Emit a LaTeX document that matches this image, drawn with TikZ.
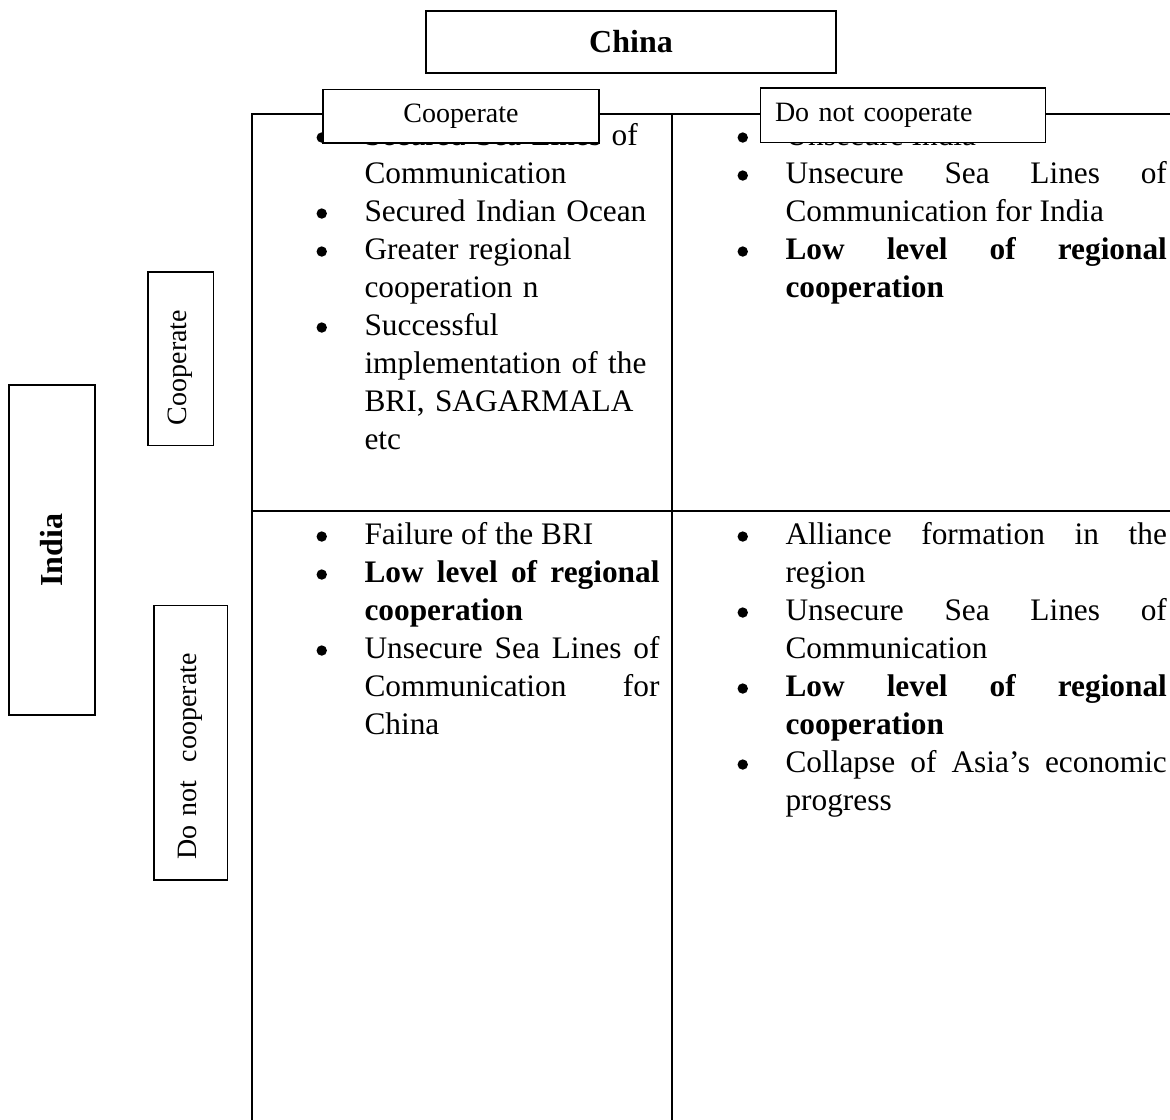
\documentclass[tikz,border=0pt]{standalone}
\usepackage{fontspec}
\setmainfont{Liberation Serif}

\hyphenpenalty=10000
\exhyphenpenalty=10000
\tolerance=10000

\newcommand{\dotmark}{\tikz[baseline=0pt]\fill (0pt,3pt) circle[radius=1.95pt];}
\newenvironment{cellitems}{%
  \begin{list}{\dotmark}{%
    \setlength{\leftmargin}{18pt}%
    \setlength{\labelwidth}{3.9pt}%
    \setlength{\labelsep}{14.1pt}%
    \setlength{\itemsep}{0pt}\setlength{\parsep}{0pt}%
    \setlength{\topsep}{0pt}\setlength{\partopsep}{0pt}}}%
  {\end{list}}
\newcommand{\topline}{\rule{0pt}{9pt}}

\begin{document}
\begin{tikzpicture}[x=0.375pt,y=-0.375pt,
    labelbox/.style={draw,line width=0.4pt,fill=white,inner sep=0pt,
      font=\fontsize{10.5}{12.6}\selectfont},
    cellbox/.style={anchor=north west,inner sep=0pt,
      font=\fontsize{11.75}{14.25}\selectfont},
    gridline/.style={line width=0.8pt}]
  \useasboundingbox (0,0) rectangle (1170,1120);

  % grid of the table
  \coordinate (tl) at (252,114);
  \coordinate (tr) at (1170,114);
  \coordinate (tm) at (672,114);
  \coordinate (bm) at (672,1120);
  \coordinate (bl) at (252,1120);
  \coordinate (ml) at (252,511);
  \coordinate (mr) at (1170,511);
  \draw[gridline] (bl) -- (tl) -- (tr);
  \draw[gridline] (tm) -- (bm);
  \draw[gridline] (ml) -- (mr);

  % cells
  \node[cellbox,text width=128.6pt,align=left] (cc) at (316,107) {%
    \begin{cellitems}
      \item \topline Secured Sea Lines of Communication
      \item Secured Indian Ocean
      \item Greater regional cooperation n
      \item Successful implementation of the BRI, SAGARMALA etc
    \end{cellitems}};
  \node[cellbox,text width=161pt,align=justify] (cn) at (737,107) {%
    \begin{cellitems}
      \item \topline Unsecure India
      \item Unsecure Sea Lines of Communication for India
      \item \textbf{Low level of regional cooperation}
    \end{cellitems}};
  \node[cellbox,text width=128.6pt,align=justify] (nc) at (316,506) {%
    \begin{cellitems}
      \item \topline Failure of the BRI
      \item \textbf{Low level of regional cooperation}
      \item Unsecure Sea Lines of\linebreak Communication for China
    \end{cellitems}};
  \node[cellbox,text width=161pt,align=justify] (nn) at (737,506) {%
    \begin{cellitems}
      \item \topline Alliance formation in the region
      \item Unsecure Sea Lines of Communication
      \item \textbf{Low level of regional cooperation}
      \item Collapse of Asia’s economic progress
    \end{cellitems}};

  % players and strategies
  \node[labelbox,minimum width=153.75pt,minimum height=23.25pt,
    font=\fontsize{12}{14.4}\selectfont\bfseries] (china) at (631,42) {China};
  \node[labelbox,minimum width=103.5pt,minimum height=19.9pt] (chinaC) at (461,116.5) {Cooperate};
  \node[labelbox,text width=96pt,inner xsep=5.6pt,minimum height=20.6pt,align=left] (chinaD) at (903,115.5) {Do not cooperate};
  \node[labelbox,rotate=90,minimum width=123.75pt,minimum height=32.25pt,
    font=\fontsize{12}{14.4}\selectfont\bfseries] (india) at (52,550) {India};
  \node[labelbox,rotate=90,text width=49.9pt,inner xsep=7.5pt,minimum height=24.4pt,align=left] (indiaC) at (180.5,358.5) {Cooperate};
  \node[labelbox,rotate=90,text width=88.1pt,inner xsep=7.5pt,minimum height=27.4pt,align=left] (indiaD) at (190.5,742.5) {Do not\ \ cooperate};
\end{tikzpicture}
\end{document}
